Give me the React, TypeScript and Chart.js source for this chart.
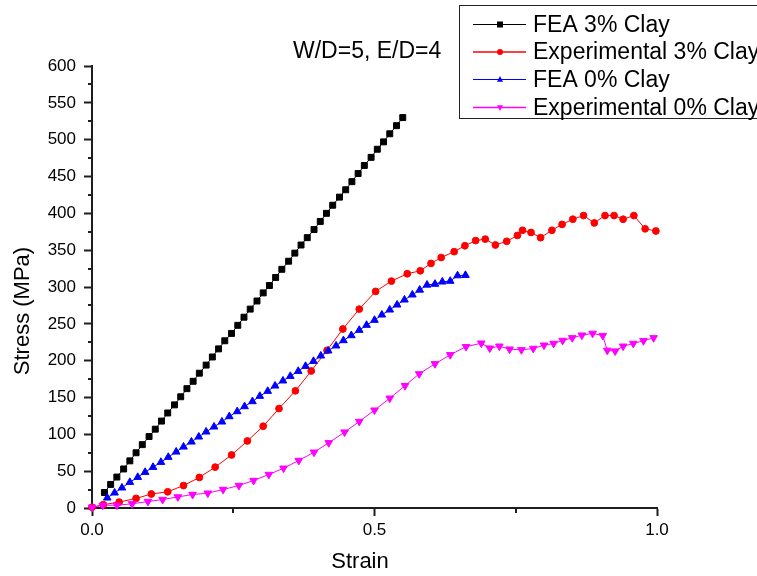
import React, { useEffect, useRef } from "react";
import { Chart, registerables } from "chart.js";

Chart.register(...registerables);

const FONT = "'Liberation Sans', Arial, Helvetica, sans-serif";

// ---------- data ----------
const seriesLabels = ["FEA 3% Clay", "Experimental 3% Clay", "FEA 0% Clay", "Experimental 0% Clay"];
const seriesColors = ["#000000", "#ff0000", "#0000ff", "#ff00ff"];

const fea3Strain = [
  0.022, 0.033, 0.044, 0.056, 0.067, 0.078, 0.089, 0.101, 0.112, 0.123, 0.134, 0.146,
  0.157, 0.168, 0.179, 0.190, 0.202, 0.213, 0.224, 0.235, 0.247, 0.258, 0.269, 0.280,
  0.292, 0.303, 0.314, 0.325, 0.336, 0.348, 0.359, 0.370, 0.381, 0.393, 0.404, 0.415,
  0.426, 0.438, 0.449, 0.460, 0.471, 0.482, 0.494, 0.505, 0.516, 0.527, 0.539, 0.550,
];
const fea3Stress = [
  21, 32, 42, 53, 64, 75, 86, 97, 107, 118, 129, 140,
  151, 162, 172, 183, 194, 205, 216, 227, 237, 248, 259, 270,
  281, 292, 302, 313, 324, 335, 346, 357, 367, 378, 389, 400,
  411, 422, 432, 443, 454, 465, 476, 487, 497, 508, 519, 530,
];

const exp3Strain = [
  0.0, 0.020, 0.048, 0.078, 0.105, 0.134, 0.162, 0.190, 0.218, 0.247, 0.275, 0.303,
  0.331, 0.360, 0.388, 0.416, 0.444, 0.473, 0.502, 0.530, 0.558, 0.581, 0.600, 0.618,
  0.641, 0.660, 0.679, 0.696, 0.714, 0.734, 0.753, 0.762, 0.777, 0.794, 0.814, 0.832,
  0.851, 0.870, 0.889, 0.908, 0.924, 0.940, 0.959, 0.979, 0.998,
];
const exp3Stress = [
  1, 4.5, 8, 13, 19, 22, 30.5, 41.5, 55.5, 72, 91, 111,
  135, 159, 186, 214, 243, 270, 294, 308, 318, 322, 332, 340,
  348, 356, 363, 365, 357, 362, 370, 377, 374, 367, 377, 385,
  392, 397, 387, 397, 397, 392, 397, 379, 376,
];

const fea0Strain = [
  0.027, 0.040, 0.053, 0.067, 0.081, 0.094, 0.108, 0.122, 0.135, 0.149, 0.162, 0.176,
  0.189, 0.202, 0.216, 0.230, 0.243, 0.257, 0.270, 0.284, 0.297, 0.311, 0.324, 0.338,
  0.351, 0.365, 0.378, 0.392, 0.405, 0.418, 0.432, 0.445, 0.459, 0.473, 0.486, 0.500,
  0.513, 0.527, 0.540, 0.553, 0.567, 0.580, 0.593, 0.607, 0.620, 0.634, 0.647, 0.661,
];
const fea0Stress = [
  13.8, 20.6, 27.4, 35, 41.8, 48.6, 55.4, 62.2, 69, 76.2, 83, 89.8,
  96.6, 103.4, 110.2, 117, 124.2, 131, 137.8, 144.6, 151.8, 158.6, 165.8, 172.7,
  178.9, 185.7, 192.5, 199.3, 206.6, 213.4, 220.2, 227.4, 234.2, 241.4, 248.2, 255,
  262.2, 269, 275.8, 282.6, 289.4, 296, 302.8, 304, 307, 308, 315.5, 316,
];

const exp0Strain = [
  0.0, 0.019, 0.044, 0.071, 0.099, 0.125, 0.152, 0.178, 0.205, 0.232, 0.260, 0.286,
  0.313, 0.339, 0.366, 0.393, 0.419, 0.447, 0.473, 0.500, 0.527, 0.554, 0.579, 0.607,
  0.634, 0.662, 0.689, 0.704, 0.721, 0.739, 0.760, 0.781, 0.800, 0.817, 0.833, 0.850,
  0.867, 0.886, 0.904, 0.912, 0.926, 0.940, 0.958, 0.976, 0.994,
];
const exp0Stress = [
  1, 3.6, 3.8, 5.7, 8.8, 11.5, 15, 18.3, 20.1, 25.1, 30.5, 37.3,
  45.5, 54, 64.5, 75.7, 88.5, 103, 117.4, 132.8, 149, 166, 182, 195.7,
  208, 219, 223.7, 217, 219.6, 215.6, 214.7, 216.5, 221, 223.3, 227.4, 231,
  234.6, 237, 234, 214, 213, 219.6, 223.3, 227, 231,
];

const xTickValues = [0, 0.5, 1.0];
const xMinorTicks = [0.25, 0.75];
const yMinorTicks = [25, 75, 125, 175, 225, 275, 325, 375, 425, 475, 525, 575];

const titleText = "W/D=5, E/D=4";
const xTitle = "Strain";
const yTitle = "Stress (MPa)";

// ---------- helpers ----------
const toPoints = (xs: number[], ys: number[]) => xs.map((x, i) => ({ x, y: ys[i] }));

const AXIS_COLOR = "#1e1e1e";

function drawMarker(ctx: CanvasRenderingContext2D, style: string, x: number, y: number, r: number, color: string) {
  ctx.fillStyle = color;
  ctx.beginPath();
  if (style === "rect") {
    ctx.rect(x - r, y - r, 2 * r, 2 * r);
  } else if (style === "circle") {
    ctx.arc(x, y, r, 0, Math.PI * 2);
  } else if (style === "triangle") {
    ctx.moveTo(x, y - r * 1.15);
    ctx.lineTo(x + r, y + r * 0.75);
    ctx.lineTo(x - r, y + r * 0.75);
    ctx.closePath();
  } else {
    ctx.moveTo(x, y + r * 1.15);
    ctx.lineTo(x + r, y - r * 0.75);
    ctx.lineTo(x - r, y - r * 0.75);
    ctx.closePath();
  }
  ctx.fill();
}

const legendStyles = ["rect", "circle", "triangle", "triangleDown"];

const decorPlugin = {
  id: "decor",
  afterDraw(chart: any) {
    const ctx: CanvasRenderingContext2D = chart.ctx;
    const xs = chart.scales.x;
    const ys = chart.scales.y;
    const area = chart.chartArea;
    ctx.save();

    // minor ticks
    ctx.strokeStyle = AXIS_COLOR;
    ctx.lineWidth = 2;
    ctx.beginPath();
    for (const v of yMinorTicks) {
      const py = Math.round(ys.getPixelForValue(v));
      ctx.moveTo(area.left - 4, py);
      ctx.lineTo(area.left, py);
    }
    for (const v of xMinorTicks) {
      const px = Math.round(xs.getPixelForValue(v));
      ctx.moveTo(px, area.bottom);
      ctx.lineTo(px, area.bottom + 5);
    }
    ctx.stroke();

    // axis titles
    ctx.fillStyle = "#000";
    ctx.font = `22px ${FONT}`;
    ctx.textAlign = "center";
    ctx.textBaseline = "middle";
    ctx.fillText(xTitle, 360, 562);
    ctx.save();
    ctx.translate(23, 311);
    ctx.rotate(-Math.PI / 2);
    ctx.fillText(yTitle, 0, 0);
    ctx.restore();

    // chart annotation title
    ctx.font = `23px ${FONT}`;
    ctx.textAlign = "left";
    ctx.textBaseline = "alphabetic";
    ctx.fillText(titleText, 293, 58);

    // legend
    ctx.fillStyle = "#fff";
    ctx.fillRect(459, 5, 320, 114);
    ctx.strokeStyle = "#222";
    ctx.lineWidth = 1;
    ctx.strokeRect(459.5, 5.5, 320, 113);
    const rows = [24.5, 52, 79.5, 107.5];
    chart.data.datasets.forEach((ds: any, i: number) => {
      const y = rows[i];
      ctx.strokeStyle = seriesColors[i];
      ctx.lineWidth = i === 0 || i === 2 ? 1 : 1.6;
      ctx.beginPath();
      ctx.moveTo(473, y);
      ctx.lineTo(526, y);
      ctx.stroke();
      drawMarker(ctx, legendStyles[i], 500, y, 3, seriesColors[i]);
      ctx.fillStyle = "#000";
      ctx.font = `23px ${FONT}`;
      ctx.textAlign = "left";
      ctx.textBaseline = "middle";
      ctx.fillText(ds.label, 533, y + 1);
    });

    ctx.restore();
  },
};

export default function App() {
  const ref = useRef<HTMLCanvasElement>(null);

  useEffect(() => {
    const canvas = ref.current;
    if (!canvas) return;

    const mk = (i: number, xsArr: number[], ysArr: number[], style: string, radius: number, rotation: number, order: number) => ({
      label: seriesLabels[i],
      data: toPoints(xsArr, ysArr),
      borderColor: seriesColors[i],
      backgroundColor: seriesColors[i],
      borderWidth: 1,
      pointStyle: style,
      pointRadius: radius,
      pointRotation: rotation,
      pointBackgroundColor: seriesColors[i],
      pointBorderColor: seriesColors[i],
      pointBorderWidth: 1,
      showLine: true,
      tension: 0,
      clip: 10,
      order,
    });

    const chart = new Chart(canvas, {
      type: "line",
      data: {
        datasets: [
          mk(0, fea3Strain, fea3Stress, "rect", 4.2, 0, 4),
          mk(1, exp3Strain, exp3Stress, "circle", 3.4, 0, 3),
          mk(2, fea0Strain, fea0Stress, "triangle", 4.4, 0, 2),
          mk(3, exp0Strain, exp0Stress, "triangle", 4.4, 180, 1),
        ] as any,
      },
      options: {
        responsive: false,
        animation: false,
        devicePixelRatio: 1,
        layout: { padding: { left: 0, top: 66, right: 100, bottom: 0 } },
        plugins: {
          legend: { display: false },
          tooltip: { enabled: false },
          title: { display: false },
        },
        scales: {
          x: {
            type: "linear",
            min: 0,
            max: 1,
            afterFit: (s: any) => {
              s.height = 68;
            },
            afterBuildTicks: (s: any) => {
              s.ticks = xTickValues.map((v) => ({ value: v }));
            },
            ticks: {
              callback: (v: any) => Number(v).toFixed(1),
              font: { family: FONT, size: 17 },
              color: "#000",
              padding: 4,
              maxRotation: 0,
              autoSkip: false,
            },
            grid: {
              drawOnChartArea: false,
              drawTicks: true,
              tickLength: 8,
              tickColor: AXIS_COLOR,
              tickWidth: 2,
            },
            border: { display: true, color: AXIS_COLOR, width: 2 },
          },
          y: {
            type: "linear",
            min: 0,
            max: 600,
            afterFit: (s: any) => {
              s.width = 92;
            },
            ticks: {
              stepSize: 50,
              font: { family: FONT, size: 17 },
              color: "#000",
              padding: 8,
              autoSkip: false,
            },
            grid: {
              drawOnChartArea: false,
              drawTicks: true,
              tickLength: 8,
              tickColor: AXIS_COLOR,
              tickWidth: 2,
            },
            border: { display: true, color: AXIS_COLOR, width: 2 },
          },
        },
      } as any,
      plugins: [decorPlugin],
    });

    return () => chart.destroy();
  }, []);

  return (
    <div style={{ position: "absolute", left: 0, top: 0, width: 757, height: 576, background: "#fff" }}>
      <canvas ref={ref} width={757} height={576} style={{ display: "block", width: 757, height: 576 }} />
    </div>
  );
}
